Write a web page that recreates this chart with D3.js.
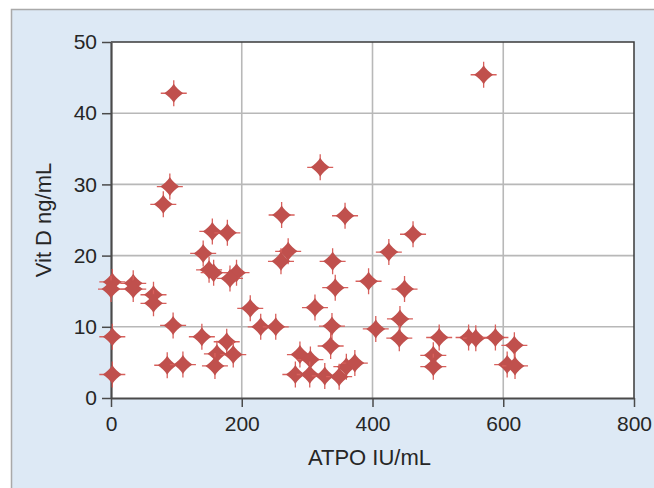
<!DOCTYPE html>
<html lang="en">
<head>
  <meta charset="UTF-8">
  <title>Vit D vs ATPO</title>
  <script src="https://d3js.org/d3.v7.min.js"></script>
  <style>
    html, body { margin: 0; padding: 0; background: #fff; }
    svg { display: block; font-family: "Liberation Sans", Arial, sans-serif; }
  </style>
</head>
<body>
  <script>
    // values
    const atpo = [570, 96, 320, 90, 80, 261, 358, 155, 178, 462,
                  141, 271, 425, 260, 339, 150, 157, 192, 182, 2,
                  34, 0, 34, 394, 343, 449, 65, 65, 213, 312,
                  442, 95, 229, 252, 338, 405, 2, 139, 441, 502,
                  547, 558, 588, 617, 177, 336, 162, 187, 289, 305,
                  493, 86, 110, 159, 360, 373, 493, 606, 618, 2,
                  282, 304, 327, 349];
    const vitD = [45.4, 42.8, 32.4, 29.7, 27.2, 25.7, 25.6, 23.4, 23.2, 23.0,
                  20.3, 20.6, 20.5, 19.2, 19.2, 18.0, 17.6, 17.6, 16.8, 16.3,
                  16.1, 15.3, 15.3, 16.4, 15.5, 15.3, 14.5, 13.3, 12.6, 12.7,
                  11.1, 10.2, 10.0, 10.0, 10.1, 9.7, 8.6, 8.6, 8.4, 8.5,
                  8.5, 8.4, 8.5, 7.4, 7.9, 7.3, 6.2, 6.1, 6.1, 5.4,
                  6.0, 4.6, 4.7, 4.5, 4.4, 4.9, 4.4, 4.7, 4.5, 3.3,
                  3.3, 3.3, 3.1, 3.0];
    const xTicks = [0, 200, 400, 600, 800];
    const yTicks = [0, 10, 20, 30, 40, 50];
    const xTitle = "ATPO IU/mL";
    const yTitle = "Vit D ng/mL";

    const width = 654, height = 488;
    const pL = 111, pR = 634, pT = 42, pB = 398;

    const svg = d3.select("body").append("svg")
      .attr("width", width)
      .attr("height", height);

    // outer panel
    svg.append("rect")
      .attr("x", 11.5).attr("y", 9.5)
      .attr("width", width).attr("height", height)
      .attr("fill", "#dde9f5")
      .attr("stroke", "#a9a9a9")
      .attr("stroke-width", 1.5);

    const x = d3.scaleLinear().domain([0, 800]).range([pL, pR]);
    const y = d3.scaleLinear().domain([0, 50]).range([pB, pT]);

    svg.append("rect")
      .attr("x", pL).attr("y", pT)
      .attr("width", pR - pL).attr("height", pB - pT)
      .attr("fill", "#fff");

    // grid
    const grid = svg.append("g").attr("stroke", "#b8b8b8").attr("stroke-width", 1.6);
    grid.selectAll(".gx").data(xTicks.slice(1, -1)).join("line")
      .attr("x1", d => x(d)).attr("x2", d => x(d))
      .attr("y1", pT).attr("y2", pB);
    grid.selectAll(".gy").data(yTicks.slice(1, -1)).join("line")
      .attr("x1", pL).attr("x2", pR)
      .attr("y1", d => y(d)).attr("y2", d => y(d));

    // frame top/right
    svg.append("path")
      .attr("d", `M${pL},${pT}H${pR}V${pB}`)
      .attr("fill", "none")
      .attr("stroke", "#3a3a3a")
      .attr("stroke-width", 1.5);

    // axes
    const xAxis = svg.append("g")
      .attr("transform", `translate(0,${pB})`)
      .call(d3.axisBottom(x).tickValues(xTicks).tickSize(9).tickSizeOuter(0).tickPadding(9));
    const yAxis = svg.append("g")
      .attr("transform", `translate(${pL},0)`)
      .call(d3.axisLeft(y).tickValues(yTicks).tickSize(9).tickSizeOuter(0).tickPadding(5));

    [xAxis, yAxis].forEach(a => {
      a.select(".domain").attr("stroke", "#4a4a4a").attr("stroke-width", 2.2);
      a.selectAll(".tick line").attr("stroke", "#4a4a4a").attr("stroke-width", 1.5);
      a.selectAll(".tick text")
        .attr("fill", "#262626")
        .style("font-size", "21px")
        .style("font-family", "'Liberation Sans', Arial, sans-serif");
    });

    // markers: fat diamond with tapered tips and a thin cross
    const pts = atpo.map((d, i) => ({ x: d, y: vitD[i] }));
    const star = "M0,-9.5 C2.2,-6 6,-2.2 9.5,0 C6,2.2 2.2,6 0,9.5 " +
                 "C-2.2,6 -6,2.2 -9.5,0 C-6,-2.2 -2.2,-6 0,-9.5 Z";
    const mk = svg.append("g").selectAll("g").data(pts).join("g")
      .attr("transform", d => `translate(${x(d.x)},${y(d.y)})`);
    mk.append("path")
      .attr("d", "M-13,0H13M0,-13V13")
      .attr("stroke", "#d8605c")
      .attr("stroke-width", 1.3);
    mk.append("path")
      .attr("d", star)
      .attr("fill", "#c0504d");

    // titles
    svg.append("text")
      .attr("x", (pL + pR) / 2 - 3)
      .attr("y", 465)
      .attr("text-anchor", "middle")
      .attr("fill", "#262626")
      .style("font-size", "22px")
      .text(xTitle);
    svg.append("text")
      .attr("transform", `translate(51,${(pT + pB) / 2}) rotate(-90)`)
      .attr("text-anchor", "middle")
      .attr("fill", "#262626")
      .style("font-size", "22px")
      .text(yTitle);
  </script>
</body>
</html>
